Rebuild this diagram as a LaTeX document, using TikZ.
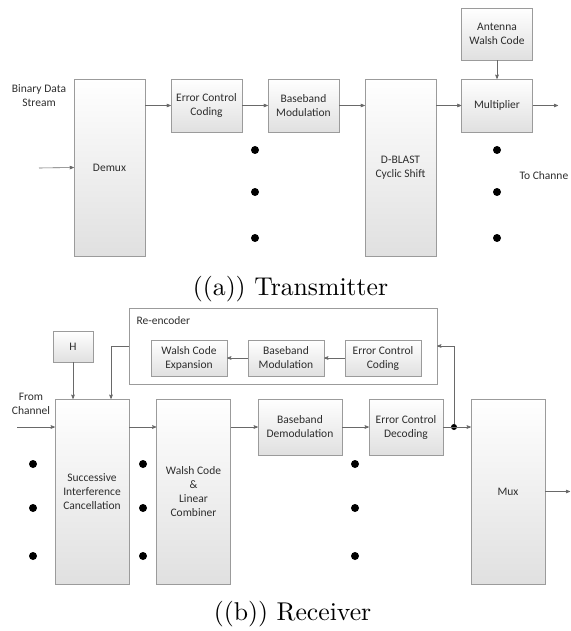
\documentclass[tikz,border=0pt]{standalone}
\usepackage{fontspec}
\newfontfamily\visiofont{Carlito}
\usepackage{tikz}
\usetikzlibrary{positioning,calc,arrows}
\definecolor{boxline}{RGB}{155,155,155}
\definecolor{boxfill}{RGB}{224,224,224}
\definecolor{wire}{RGB}{105,105,105}
\definecolor{boxtext}{RGB}{45,45,45}
\tikzset{
  block/.style  = {draw=boxline, thin, top color=white, bottom color=boxfill,
                   inner sep=0pt, align=center, text=boxtext,
                   font=\visiofont\fontsize{11.5}{14}\selectfont},
  short/.style  = {block, minimum width=71, minimum height=53},
  tall/.style   = {block, minimum width=71, minimum height=177},
  rxshort/.style = {block, minimum width=74, minimum height=56},
  rxtall/.style = {block, minimum width=74, minimum height=185},
  inner/.style  = {block, minimum width=76, minimum height=36},
  label/.style  = {align=center, text=boxtext,
                   font=\visiofont\fontsize{11.5}{14}\selectfont},
  caption/.style = {font=\fontsize{10}{12}\selectfont},
  link/.style   = {->, >=stealth', draw=wire, semithick},
  junction/.style = {circle, fill=black, inner sep=0pt, minimum size=6}
}

\begin{document}
\begin{tikzpicture}[x=1pt,y=-1pt]
  \useasboundingbox (0,0) rectangle (570,631);
  % transmitter
  \node[tall]  (demux)  at (109.5,167.5) {Demux};
  \node[short] (ecc)    at (206.5,105.5) {Error Control\\Coding};
  \node[short] (bbmod)  at (303.5,105.5) {Baseband\\Modulation};
  \node[tall]  (dblast) at (400.5,167.5) {D-BLAST\\Cyclic Shift};
  \node[short] (mult)   at (497,105.5)   {Multiplier};
  \node[block, minimum width=71, minimum height=52] (walsh) at (497,34) {Antenna\\Walsh Code};
  \node[label] (bin)    at (39,96)    {Binary Data\\Stream};
  \node[label, anchor=west] (tochan) at (516,176) {To Channe};
  \coordinate (txin)  at (39,168);
  \coordinate (txout) at (558,105.5);
  \draw[link] (txin) -- (demux.west);
  \draw[link] (demux.east |- ecc.west) -- (ecc.west);
  \draw[link] (ecc) -- (bbmod);
  \draw[link] (bbmod.east) -- (dblast.west |- bbmod.east);
  \draw[link] (dblast.east |- mult.west) -- (mult.west);
  \draw[link] (walsh) -- (mult);
  \draw[link] (mult.east) -- (txout);
  \foreach \y in {150,192,238} {
    \fill (255,\y) circle (4);
    \fill (497,\y) circle (4);
  }
  \node[caption] (capa) at (290.5,289) {\scalebox{2.57}{((a)) Transmitter}};

  % receiver
  \node[draw=boxline, thin, minimum width=308, minimum height=76, inner sep=0pt] (reenc) at (283,346) {};
  \node[label, anchor=west] (reenctxt) at (133,321) {Re-encoder};
  \node[inner] (wce)  at (189,358) {Walsh Code\\Expansion};
  \node[inner] (rbm)  at (286,358) {Baseband\\Modulation};
  \node[inner] (recc) at (383,358) {Error Control\\Coding};
  \node[block, minimum width=40, minimum height=31] (hbox) at (73,346.5) {H};
  \node[rxtall]  (sic)  at (92,491.5)  {Successive\\Interference\\Cancellation};
  \node[rxtall]  (wclc) at (193.5,491.5) {Walsh Code\\\&\\Linear\\Combiner};
  \node[block, minimum width=84, minimum height=56] (bd) at (300,427) {Baseband\\Demodulation};
  \node[rxshort] (ecd)  at (406,427)   {Error Control\\Decoding};
  \node[rxtall]  (mux)  at (508,491.5) {Mux};
  \node[label] (fromch) at (31,404) {From\\Channel};
  \node[junction] (jn) at (454,427) {};
  \coordinate (rxin)  at (17,427);
  \coordinate (rxout) at (570,491.5);
  \coordinate (fb)    at (111,346);
  \draw[link] (recc) -- (rbm);
  \draw[link] (rbm) -- (wce);
  \draw[link] (hbox.south) -- (hbox.south |- sic.north);
  \draw[link] (reenc.west) -- (fb) -- (fb |- sic.north);
  \draw[link] (rxin) -- (sic.west |- rxin);
  \draw[link] (sic.east |- bd.west) -- (wclc.west |- bd.west);
  \draw[link] (wclc.east |- bd.west) -- (bd.west);
  \draw[link] (bd) -- (ecd);
  \draw[link] (ecd.east) -- (mux.west |- ecd.east);
  \draw[link] (jn) |- (reenc.east);
  \draw[link] (mux.east) -- (rxout);
  \foreach \y in {464,508,556} {
    \fill (33,\y) circle (4);
    \fill (143,\y) circle (4);
    \fill (355,\y) circle (4);
  }
  \node[caption] (capb) at (292.5,614) {\scalebox{2.57}{((b)) Receiver}};
\end{tikzpicture}
\end{document}
